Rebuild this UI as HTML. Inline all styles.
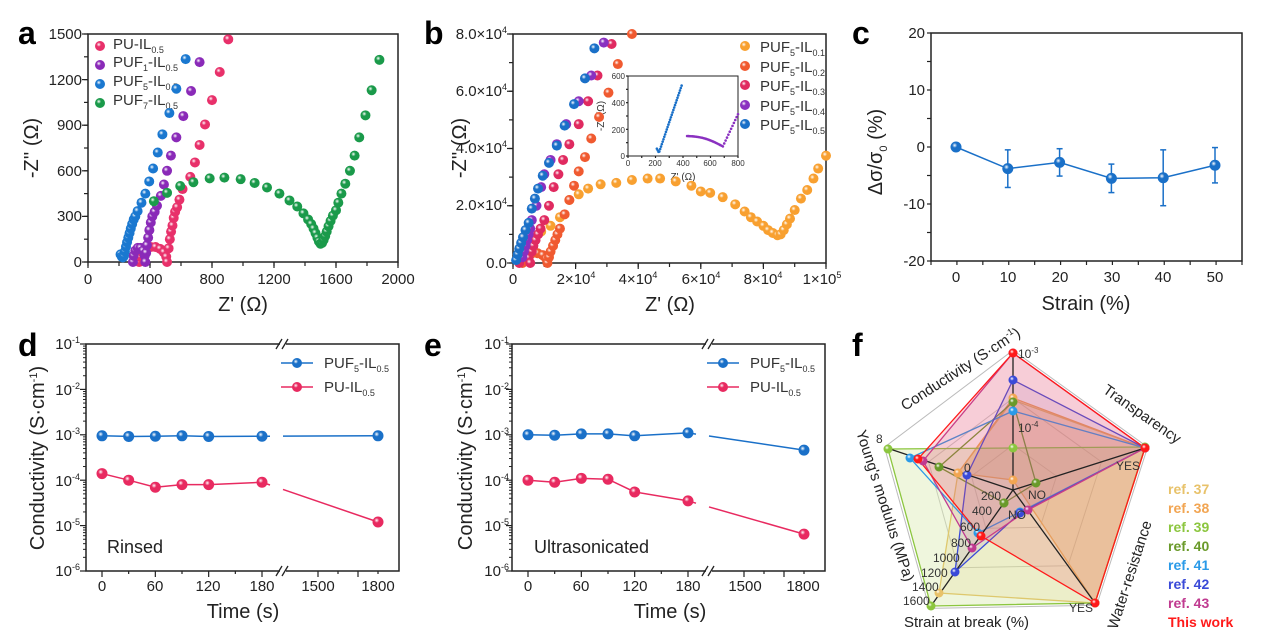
<!DOCTYPE html>
<html><head><meta charset="utf-8">
<style>
html,body{margin:0;padding:0;background:#fff;}
svg{display:block;font-family:"Liberation Sans",Arial,sans-serif;}
.t{font-size:15px;fill:#222;}
.ti{font-size:20px;fill:#222;}
.L{font-size:32px;font-weight:bold;fill:#000;}
.lg{font-size:15px;fill:#333;}
.sub{font-size:9px;}
</style></head>
<body>
<svg id="s" width="1270" height="634" viewBox="0 0 1270 634" xmlns="http://www.w3.org/2000/svg">
<defs id="defs"></defs>
<rect width="1270" height="634" fill="#fff"/>

<!-- ===== Panel a ===== -->
<text class="L" x="18" y="44">a</text>
<rect x="88" y="34" width="310" height="228" fill="none" stroke="#222" stroke-width="1.5"/>
<g class="t" text-anchor="end">
<text x="82" y="39">1500</text><text x="82" y="85">1200</text><text x="82" y="130">900</text><text x="82" y="176">600</text><text x="82" y="221">300</text><text x="82" y="267">0</text>
</g>
<g class="t" text-anchor="middle">
<text x="88" y="284">0</text><text x="150" y="284">400</text><text x="212" y="284">800</text><text x="274" y="284">1200</text><text x="336" y="284">1600</text><text x="398" y="284">2000</text>
</g>
<text class="ti" text-anchor="middle" x="243" y="311">Z' (Ω)</text>
<text class="ti" text-anchor="middle" transform="translate(38,148) rotate(-90)">-Z'' (Ω)</text>
<g id="ticksA"></g>
<g class="lg">
<text x="113" y="49">PU-IL<tspan class="sub" dy="4">0.5</tspan></text>
<text x="113" y="67">PUF<tspan class="sub" dy="4">1</tspan><tspan dy="-4">-IL</tspan><tspan class="sub" dy="4">0.5</tspan></text>
<text x="113" y="86">PUF<tspan class="sub" dy="4">5</tspan><tspan dy="-4">-IL</tspan><tspan class="sub" dy="4">0.5</tspan></text>
<text x="113" y="105">PUF<tspan class="sub" dy="4">7</tspan><tspan dy="-4">-IL</tspan><tspan class="sub" dy="4">0.5</tspan></text>
</g>

<!-- ===== Panel b ===== -->
<text class="L" x="424" y="44">b</text>
<rect x="513" y="34" width="313" height="229" fill="none" stroke="#222" stroke-width="1.5"/>
<g class="t" text-anchor="end">
<text x="507" y="39">8.0×10<tspan font-size="9" dy="-6">4</tspan></text>
<text x="507" y="96">6.0×10<tspan font-size="9" dy="-6">4</tspan></text>
<text x="507" y="153">4.0×10<tspan font-size="9" dy="-6">4</tspan></text>
<text x="507" y="210">2.0×10<tspan font-size="9" dy="-6">4</tspan></text>
<text x="507" y="268">0.0</text>
</g>
<g class="t" text-anchor="middle">
<text x="513" y="284">0</text><text x="576" y="284">2×10<tspan font-size="9" dy="-6">4</tspan></text><text x="638" y="284">4×10<tspan font-size="9" dy="-6">4</tspan></text><text x="701" y="284">6×10<tspan font-size="9" dy="-6">4</tspan></text><text x="763" y="284">8×10<tspan font-size="9" dy="-6">4</tspan></text><text x="822" y="284">1×10<tspan font-size="9" dy="-6">5</tspan></text>
</g>
<text class="ti" text-anchor="middle" x="670" y="311">Z' (Ω)</text>
<text class="ti" text-anchor="middle" transform="translate(466,148) rotate(-90)">-Z'' (Ω)</text>
<g class="lg">
<text x="760" y="52">PUF<tspan class="sub" dy="4">5</tspan><tspan dy="-4">-IL</tspan><tspan class="sub" dy="4">0.1</tspan></text>
<text x="760" y="72">PUF<tspan class="sub" dy="4">5</tspan><tspan dy="-4">-IL</tspan><tspan class="sub" dy="4">0.2</tspan></text>
<text x="760" y="91">PUF<tspan class="sub" dy="4">5</tspan><tspan dy="-4">-IL</tspan><tspan class="sub" dy="4">0.3</tspan></text>
<text x="760" y="111">PUF<tspan class="sub" dy="4">5</tspan><tspan dy="-4">-IL</tspan><tspan class="sub" dy="4">0.4</tspan></text>
<text x="760" y="130">PUF<tspan class="sub" dy="4">5</tspan><tspan dy="-4">-IL</tspan><tspan class="sub" dy="4">0.5</tspan></text>
</g>
<rect x="628" y="76" width="110" height="80" fill="#fff" stroke="#222" stroke-width="1"/>
<g font-size="8" fill="#333" text-anchor="end">
<text x="625" y="79">600</text><text x="625" y="106">400</text><text x="625" y="133">200</text><text x="625" y="159">0</text>
</g>
<g font-size="8" fill="#333" text-anchor="middle">
<text x="628" y="166">0</text><text x="655" y="166">200</text><text x="683" y="166">400</text><text x="710" y="166">600</text><text x="738" y="166">800</text>
</g>
<text font-size="10" fill="#333" text-anchor="middle" x="683" y="180">Z' (Ω)</text>
<text font-size="10" fill="#333" text-anchor="middle" transform="translate(604,116) rotate(-90)">-Z'' (Ω)</text>

<!-- ===== Panel c ===== -->
<text class="L" x="852" y="44">c</text>
<rect x="931" y="33" width="311" height="228" fill="none" stroke="#222" stroke-width="1.5"/>
<g class="t" text-anchor="end">
<text x="925" y="38">20</text><text x="925" y="95">10</text><text x="925" y="152">0</text><text x="925" y="209">-10</text><text x="925" y="266">-20</text>
</g>
<g class="t" text-anchor="middle">
<text x="956" y="282">0</text><text x="1008" y="282">10</text><text x="1060" y="282">20</text><text x="1112" y="282">30</text><text x="1163" y="282">40</text><text x="1215" y="282">50</text>
</g>
<text class="ti" text-anchor="middle" x="1086" y="310">Strain (%)</text>
<text class="ti" text-anchor="middle" transform="translate(882,152) rotate(-90)">Δσ/σ<tspan font-size="11" dy="5">0</tspan><tspan dy="-5"> (%)</tspan></text>

<!-- ===== Panel d ===== -->
<text class="L" x="18" y="356">d</text>
<g class="t" text-anchor="end">
<text x="80" y="349">10<tspan font-size="9" dy="-6">-1</tspan></text>
<text x="80" y="395">10<tspan font-size="9" dy="-6">-2</tspan></text>
<text x="80" y="440">10<tspan font-size="9" dy="-6">-3</tspan></text>
<text x="80" y="486">10<tspan font-size="9" dy="-6">-4</tspan></text>
<text x="80" y="531">10<tspan font-size="9" dy="-6">-5</tspan></text>
<text x="80" y="576">10<tspan font-size="9" dy="-6">-6</tspan></text>
</g>
<g class="t" text-anchor="middle">
<text x="102" y="591">0</text><text x="155" y="591">60</text><text x="208" y="591">120</text><text x="262" y="591">180</text><text x="318" y="591">1500</text><text x="378" y="591">1800</text>
</g>
<text class="ti" text-anchor="middle" x="243" y="618">Time (s)</text>
<text class="ti" text-anchor="middle" transform="translate(44,458) rotate(-90)">Conductivity (S·cm<tspan font-size="11" dy="-7">-1</tspan><tspan dy="7">)</tspan></text>
<text x="107" y="553" font-size="18" fill="#222">Rinsed</text>
<g class="lg">
<text x="324" y="368">PUF<tspan class="sub" dy="4">5</tspan><tspan dy="-4">-IL</tspan><tspan class="sub" dy="4">0.5</tspan></text>
<text x="324" y="392">PU-IL<tspan class="sub" dy="4">0.5</tspan></text>
</g>

<!-- ===== Panel e ===== -->
<text class="L" x="424" y="356">e</text>
<g class="t" text-anchor="end">
<text x="509" y="349">10<tspan font-size="9" dy="-6">-1</tspan></text>
<text x="509" y="395">10<tspan font-size="9" dy="-6">-2</tspan></text>
<text x="509" y="440">10<tspan font-size="9" dy="-6">-3</tspan></text>
<text x="509" y="486">10<tspan font-size="9" dy="-6">-4</tspan></text>
<text x="509" y="531">10<tspan font-size="9" dy="-6">-5</tspan></text>
<text x="509" y="576">10<tspan font-size="9" dy="-6">-6</tspan></text>
</g>
<g class="t" text-anchor="middle">
<text x="528" y="591">0</text><text x="581" y="591">60</text><text x="635" y="591">120</text><text x="688" y="591">180</text><text x="745" y="591">1500</text><text x="803" y="591">1800</text>
</g>
<text class="ti" text-anchor="middle" x="670" y="618">Time (s)</text>
<text class="ti" text-anchor="middle" transform="translate(472,458) rotate(-90)">Conductivity (S·cm<tspan font-size="11" dy="-7">-1</tspan><tspan dy="7">)</tspan></text>
<text x="534" y="553" font-size="18" fill="#222">Ultrasonicated</text>
<g class="lg">
<text x="750" y="368">PUF<tspan class="sub" dy="4">5</tspan><tspan dy="-4">-IL</tspan><tspan class="sub" dy="4">0.5</tspan></text>
<text x="750" y="392">PU-IL<tspan class="sub" dy="4">0.5</tspan></text>
</g>

<!-- ===== Panel f ===== -->
<text class="L" x="852" y="356">f</text>
<g id="radar"></g>
<g font-size="12" fill="#333">
<text x="1018" y="358">10<tspan font-size="8" dy="-5">-3</tspan></text>
<text x="1018" y="432">10<tspan font-size="8" dy="-5">-4</tspan></text>
<text x="1116" y="470">YES</text>
<text x="1028" y="499">NO</text>
<text x="1008" y="519">NO</text>
<text x="1069" y="612">YES</text>
<text x="876" y="443">8</text>
<text x="964" y="472">0</text>
<text x="981" y="500">200</text>
<text x="972" y="515">400</text>
<text x="960" y="531">600</text>
<text x="951" y="547">800</text>
<text x="933" y="562">1000</text>
<text x="921" y="577">1200</text>
<text x="912" y="591">1400</text>
<text x="903" y="605">1600</text>
</g>
<g font-size="15" fill="#222">
<text transform="translate(905,411) rotate(-33)">Conductivity (S·cm<tspan font-size="9" dy="-6">-1</tspan><tspan dy="6">)</tspan></text>
<text transform="translate(1102,392) rotate(35)">Transparency</text>
<text transform="translate(1117,630) rotate(-72)">Water-resistance</text>
<text x="904" y="627">Strain at break (%)</text>
<text transform="translate(856,432) rotate(72)">Young's modulus (MPa)</text>
</g>
<g font-size="14" font-weight="bold">
<text x="1168" y="494" fill="#e8c26a">ref. 37</text>
<text x="1168" y="513" fill="#f2a552">ref. 38</text>
<text x="1168" y="532" fill="#8cc63f">ref. 39</text>
<text x="1168" y="551" fill="#6a9a2a">ref. 40</text>
<text x="1168" y="570" fill="#2a9ae8">ref. 41</text>
<text x="1168" y="589" fill="#3a4ad8">ref. 42</text>
<text x="1168" y="608" fill="#c03a90">ref. 43</text>
<text x="1168" y="627" fill="#ff1a1a">This work</text>
</g>
<g id="plots"></g>
</svg>
<script>
(function(){
var NS="http://www.w3.org/2000/svg";
var defs=document.getElementById('defs');
var P=document.getElementById('plots');
var R=document.getElementById('radar');
var gid=0;
function el(t,a,p){var e=document.createElementNS(NS,t);for(var k in a)e.setAttribute(k,a[k]);(p||P).appendChild(e);return e;}
function grad(c){var id='g'+(gid++);var g=el('radialGradient',{id:id,cx:'0.38',cy:'0.35',r:'0.65'},defs);
el('stop',{offset:'0','stop-color':'#fff'},g);el('stop',{offset:'0.35','stop-color':c},g);el('stop',{offset:'1','stop-color':c},g);return 'url(#'+id+')';}
function dots(pts,c,r,par){var f=grad(c);pts.forEach(function(p){el('circle',{cx:p[0],cy:p[1],r:r,fill:f},par);});}
function line(pts,c,w,par){el('polyline',{points:pts.map(function(p){return p.join(',')}).join(' '),fill:'none',stroke:c,'stroke-width':w||1.5},par);}
function semi(x0,x1,h,n){var a=[];for(var i=0;i<=n;i++){var t=Math.PI*i/n;a.push([(x0+x1)/2-(x1-x0)/2*Math.cos(t),h*Math.sin(t)]);}return a;}
function ticks(x0,y0,x1,y1,n,dir,len){for(var i=0;i<=n;i++){var x=x0+(x1-x0)*i/n,y=y0+(y1-y0)*i/n;
 if(dir=='x')el('line',{x1:x,y1:y,x2:x,y2:y+len,stroke:'#222','stroke-width':1.2});else el('line',{x1:x,y1:y,x2:x-len,y2:y,stroke:'#222','stroke-width':1.2});}}

var ax=function(z){return 88+z*310/2000},ay=function(z){return 262-z*228/1500};
function A(arr){return arr.map(function(p){return [ax(p[0]),ay(p[1])]});}
ticks(88,262,398,262,10,'x',4);ticks(88,262,88,34,10,'y',4);
ticks(88,262,398,262,5,'x',6);ticks(88,262,88,34,5,'y',6);
var red=semi(330,510,100,9).concat([[520,90],[528,150],[536,200],[545,240],[553,290],[562,330],[575,360],[590,410],[610,480],[660,560],[690,655],[720,770],[755,905],[800,1065],[850,1250],[905,1465]]);
var pur=semi(290,370,95,7).concat([[375,60],[380,110],[388,160],[396,210],[405,260],[415,300],[430,330],[445,370],[470,435],[490,510],[510,600],[535,700],[570,820],[615,960],[665,1125],[720,1315]]);
var blu=[[210,50],[218,35],[225,30],[232,40],[238,70],[245,100],[252,130],[260,160],[268,190],[276,220],[285,250],[295,280],[305,300],[320,335],[345,390],[370,450],[395,530],[420,615],[450,720],[480,840],[525,980],[570,1140],[630,1335]];
var grn=[[425,400],[510,455],[595,500],[680,525],[785,550],[880,555],[985,545],[1075,520],[1155,490],[1235,450],[1300,405],[1350,365],[1390,320],[1420,280],[1440,250],[1455,220],[1468,190],[1480,160],[1490,135],[1500,120],[1510,125],[1520,145],[1530,170],[1540,200],[1552,235],[1565,270],[1580,305],[1600,340],[1615,390],[1635,450],[1660,515],[1690,600],[1720,700],[1750,820],[1790,965],[1830,1130],[1880,1330]];
dots(A(red),'#e8306a',5);dots(A(pur),'#8a2ab8',5);dots(A(grn),'#1a9a4a',5);dots(A(blu),'#1a78d0',5);
dots([[100,46]],'#e8306a',5);dots([[100,65]],'#8a2ab8',5);dots([[100,84]],'#1a78d0',5);dots([[100,103]],'#1a9a4a',5);

var bx=function(z){return 513+z*313/10},by=function(z){return 263-z*229/8};
function B(arr){return arr.map(function(p){return [bx(p[0]),by(p[1])]});}
ticks(513,263,826,263,10,'x',4);ticks(513,263,513,34,8,'y',4);
ticks(513,263,826,263,5,'x',6);ticks(513,263,513,34,4,'y',6);
var o1=[[0.3,0.3],[0.6,0.8],[0.9,1.1],[1.2,1.3],[1.5,1.6],[1.8,2.2],[2.1,2.4],[2.4,2.6],[2.8,2.75],[3.3,2.8],[3.8,2.9],[4.3,2.95],[4.7,2.95],[5.2,2.85],[5.7,2.7],[6.0,2.5],[6.3,2.45],[6.7,2.3],[7.1,2.05],[7.4,1.8],[7.6,1.6],[7.8,1.45],[8.0,1.3],[8.15,1.15],[8.3,1.05],[8.45,0.97],[8.55,1.0],[8.65,1.15],[8.75,1.35],[8.85,1.55],[9.0,1.85],[9.2,2.25],[9.4,2.55],[9.6,2.95],[9.75,3.3],[10.0,3.75]];
var o2=semi(0.3,1.1,0.35,7).concat([[1.15,0.2],[1.2,0.4],[1.28,0.6],[1.35,0.8],[1.42,1.0],[1.5,1.2],[1.65,1.7],[1.8,2.2],[1.95,2.7],[2.1,3.2],[2.3,3.7],[2.5,4.35],[2.75,5.1],[3.05,5.95],[3.35,6.95],[3.8,8.0]]);
var o3=semi(0.2,0.55,0.25,4).concat([[0.6,0.4],[0.65,0.6],[0.72,0.8],[0.8,1.0],[0.88,1.2],[1.0,1.5],[1.15,2.0],[1.3,2.65],[1.45,3.1],[1.6,3.6],[1.8,4.15],[2.1,4.85],[2.4,5.65],[2.7,6.55],[3.15,7.65]]);
var o4=[[0.3,0.2],[0.35,0.4],[0.4,0.6],[0.45,0.8],[0.5,1.0],[0.55,1.2],[0.6,1.5],[0.75,2.0],[0.9,2.65],[1.0,3.1],[1.2,3.6],[1.4,4.15],[1.7,4.85],[2.1,5.65],[2.5,6.55],[2.9,7.7]];
var o5=[[0.1,0.1],[0.15,0.3],[0.2,0.5],[0.26,0.7],[0.32,0.9],[0.4,1.15],[0.5,1.4],[0.6,1.9],[0.7,2.25],[0.8,2.6],[0.95,3.05],[1.15,3.5],[1.4,4.1],[1.65,4.8],[1.95,5.55],[2.3,6.45],[2.6,7.5]];
dots(B(o1),'#f8a030',5);dots(B(o2),'#f05a30',5);dots(B(o3),'#e02a60',5);dots(B(o4),'#8a30c0',5);dots(B(o5),'#1a70c8',5);
dots([[745,46]],'#f8a030',5);dots([[745,66]],'#f05a30',5);dots([[745,85]],'#e02a60',5);dots([[745,105]],'#8a30c0',5);dots([[745,124]],'#1a70c8',5);
var ix=function(z){return 628+z*110/800},iy=function(z){return 156-z*80/600};
var ib=[];for(var z=210;z<=390;z+=6){var zz=z<225?(225-z)*2+25:25+(z-225)*3.05;ib.push([ix(z),iy(zz)]);}
ib.forEach(function(p){el('circle',{cx:p[0],cy:p[1],r:1.3,fill:'#1a70c8'});});
var ip=[];for(var z=430;z<=800;z+=10){var v;if(z<690)v=150-(z-430)*0.3+Math.sin((z-430)/260*Math.PI)*20;else v=72+(z-690)*2.2;ip.push([ix(z),iy(v)]);}
ip.forEach(function(p){el('circle',{cx:p[0],cy:p[1],r:1.3,fill:'#8a30c0'});});
ticks(628,156,738,156,8,'x',2);ticks(628,156,628,76,6,'y',2);

ticks(931,261,1242,261,12,'x',4);ticks(931,261,931,33,8,'y',4);
var cx=function(s){return 956+s*259/50},cy=function(v){return 147-v*114/20};
var cd=[[0,0,0],[10,-3.8,3.3],[20,-2.7,2.4],[30,-5.5,2.5],[40,-5.4,4.9],[50,-3.2,3.1]];
cd.forEach(function(d){if(d[2]){var x=cx(d[0]);el('line',{x1:x,y1:cy(d[1]+d[2]),x2:x,y2:cy(d[1]-d[2]),stroke:'#1a70c8','stroke-width':1.5});
el('line',{x1:x-3,y1:cy(d[1]+d[2]),x2:x+3,y2:cy(d[1]+d[2]),stroke:'#1a70c8','stroke-width':1.5});el('line',{x1:x-3,y1:cy(d[1]-d[2]),x2:x+3,y2:cy(d[1]-d[2]),stroke:'#1a70c8','stroke-width':1.5});}});
var cp=cd.map(function(d){return [cx(d[0]),cy(d[1])]});line(cp,'#1a70c8',1.5);dots(cp,'#1a70c8',5.5);

function logp(v){return 344+(-1-Math.log10(v))*45.4;}
function panelDE(x0,vals1,vals2){
 var X0=x0,X1=x0+313;
 el('polyline',{points:[X0+194,344,X0,344,X0,571,X0+194,571].join(' '),fill:'none',stroke:'#222','stroke-width':1.5});
 el('polyline',{points:[X0+200,344,X1,344,X1,571,X0+200,571].join(' '),fill:'none',stroke:'#222','stroke-width':1.5});
 el('line',{x1:X0+190,y1:349,x2:X0+196,y2:339,stroke:'#222','stroke-width':1.3});el('line',{x1:X0+196,y1:349,x2:X0+202,y2:339,stroke:'#222','stroke-width':1.3});
 el('line',{x1:X0+190,y1:576,x2:X0+196,y2:566,stroke:'#222','stroke-width':1.3});el('line',{x1:X0+196,y1:576,x2:X0+202,y2:566,stroke:'#222','stroke-width':1.3});
 for(var d=0;d<=5;d++){var y=344+d*45.4;el('line',{x1:X0,y1:y,x2:X0-6,y2:y,stroke:'#222','stroke-width':1.2});
  for(var k=2;k<10&&d<5;k++){var yy=y+45.4*(1-Math.log10(k));el('line',{x1:X0,y1:yy,x2:X0-3,y2:yy,stroke:'#222','stroke-width':1});}}
 var bx0=X0+16;var ts=[0,30,60,90,120,180];
 [0,30,60,90,120,150,180].forEach(function(t){var x=bx0+t*160/180;el('line',{x1:x,y1:571,x2:x,y2:t%60?574:577,stroke:'#222','stroke-width':1.2});});
 [X0+232,X0+252,X0+272,X0+292].forEach(function(x,i){el('line',{x1:x,y1:571,x2:x,y2:i==0||i==2?577:574,stroke:'#222','stroke-width':1.2});});
 function pts(vals){var a=ts.map(function(t,i){return [bx0+t*160/180,logp(vals[i])]});a.push([X0+292,logp(vals[6])]);return a;}
 [[vals1,'#1a70c8'],[vals2,'#e82a60']].forEach(function(s){var p=pts(s[0]);line(p.slice(0,6),s[1],1.5);
  var a=p[5],b=p[6];var f1=(X0+184-a[0])/(b[0]-a[0]),f2=(X0+197-a[0])/(b[0]-a[0]);
  el('line',{x1:a[0],y1:a[1],x2:a[0]+(b[0]-a[0])*f1,y2:a[1]+(b[1]-a[1])*f1,stroke:s[1],'stroke-width':1.5});
  el('line',{x1:a[0]+(b[0]-a[0])*f2,y1:a[1]+(b[1]-a[1])*f2,x2:b[0],y2:b[1],stroke:s[1],'stroke-width':1.5});
  dots(p,s[1],5.5);});
 var lx=X0+195;line([[lx,363],[lx+32,363]],'#1a70c8',1.5);dots([[lx+16,363]],'#1a70c8',5);
 line([[lx,387],[lx+32,387]],'#e82a60',1.5);dots([[lx+16,387]],'#e82a60',5);
}
panelDE(86,[9.5e-4,9.2e-4,9.3e-4,9.5e-4,9.2e-4,9.3e-4,9.5e-4],[1.4e-4,1e-4,7e-5,8e-5,8e-5,9e-5,1.2e-5]);
panelDE(512,[1e-3,9.8e-4,1.05e-3,1.05e-3,9.5e-4,1.1e-3,4.6e-4],[1e-4,9e-5,1.1e-4,1.05e-4,5.5e-5,3.5e-5,6.5e-6]);

var C=[1013,490];
var V=[[1013,353],[1145,448],[1095,603],[931,606],[887,448]];
function scale(f){return V.map(function(v){return [C[0]+(v[0]-C[0])*f,C[1]+(v[1]-C[1])*f]});}
function poly(p,fill,stroke,w,par){el('polygon',{points:p.map(function(q){return q.join(',')}).join(' '),fill:fill,stroke:stroke,'stroke-width':w||1.3},par||R);}
poly(scale(1.02),'none','#bbb',1,R);poly(scale(0.67),'none','#ccc',1,R);poly(scale(0.33),'none','#ccc',1,R);
var S=[
 ['#e8c26a','rgba(232,194,106,0.18)',[[1013,400],[1145,448],[1095,603],[939,593],[958,473]]],
 ['#f2a552','rgba(235,150,70,0.25)',[[1013,398],[1145,448],[1095,603],[1013,480],[958,473]]],
 ['#8cc63f','rgba(190,220,120,0.25)',[[1013,448],[1145,447],[1095,603],[931,606],[888,449]]],
 ['#6a9a2a','none',[[1013,402],[1036,483],[1004,503],[1004,503],[939,467]]],
 ['#2a9ae8','none',[[1013,411],[1145,448],[1020,512],[978,533],[910,458]]],
 ['#3a4ad8','rgba(120,90,200,0.12)',[[1013,380],[1145,448],[1020,513],[955,572],[967,475]]],
 ['#c03a90','rgba(200,80,150,0.1)',[[1013,353],[1145,448],[1028,510],[972,548],[923,461]]],
 ['#ff1a1a','rgba(240,80,100,0.2)',[[1013,353],[1145,448],[1095,603],[981,536],[918,459]]]
];
S.forEach(function(s){poly(s[2],s[1],s[0],1.3);});
V.forEach(function(v){el('line',{x1:C[0],y1:C[1],x2:v[0],y2:v[1],stroke:'#222','stroke-width':1.3},R);});
S.forEach(function(s){dots(s[2],s[0],4.5,R);});
})();
</script>
</body></html>
